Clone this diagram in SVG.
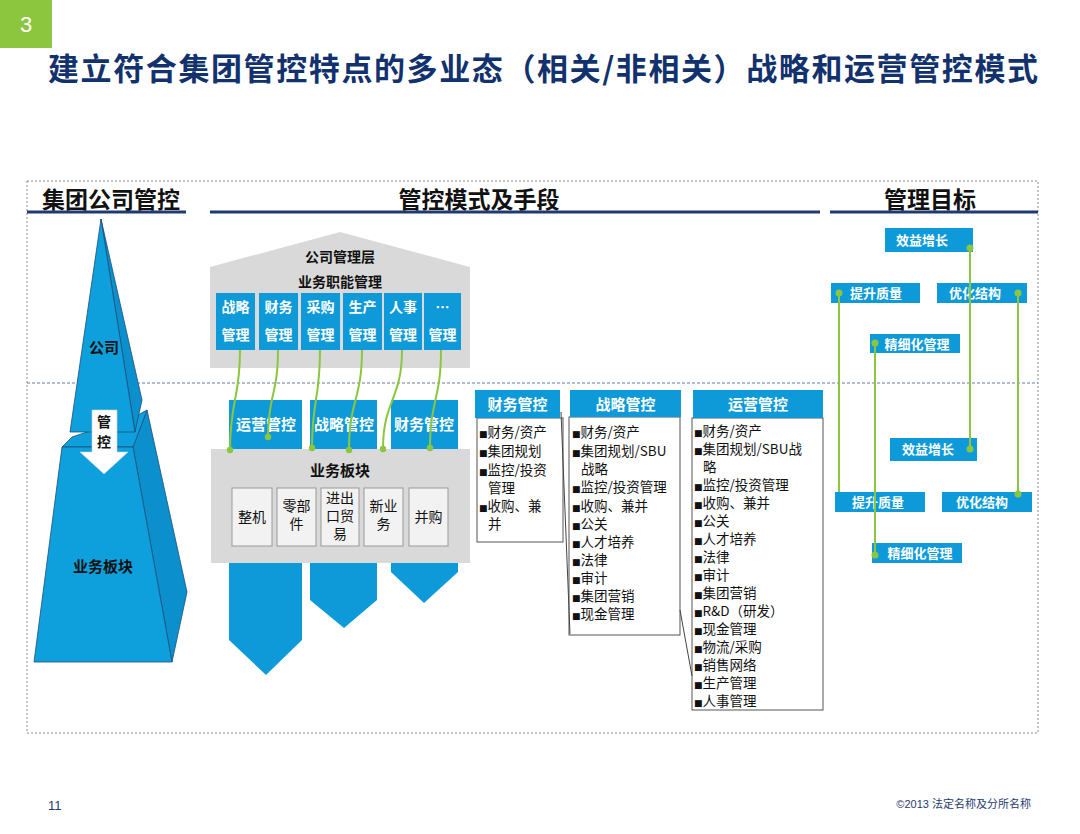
<svg xmlns="http://www.w3.org/2000/svg" width="1080" height="834" viewBox="0 0 1080 834">
<defs>
<style>
.title{font-family:"Noto Sans CJK SC","Liberation Sans",sans-serif;font-weight:bold;fill:#12326e}
.head{font-family:"Noto Sans CJK SC","Liberation Sans",sans-serif;font-weight:bold;fill:#111;font-size:23px}
.uline{stroke:#1f3a70;stroke-width:3}
.blue{fill:#0e9ad8}
.wt{font-family:"Noto Sans CJK SC","Liberation Sans",sans-serif;font-weight:bold;fill:#fff;text-anchor:middle}
.bt{font-family:"Noto Sans CJK SC","Liberation Sans",sans-serif;font-weight:bold;fill:#111;text-anchor:middle}
.list{font-family:"Noto Sans CJK SC","Liberation Sans",sans-serif;font-size:13.5px;fill:#111}
.bul{font-family:"DejaVu Sans",sans-serif;font-size:9px}
.body{fill:#fff;stroke:#555;stroke-width:1}
.sub{fill:#f2f2f2;stroke:#9a9a9a;stroke-width:1}
.st{font-family:"Noto Sans CJK SC","Liberation Sans",sans-serif;font-size:14px;fill:#111;text-anchor:middle}
.gl{fill:none;stroke:#8cc63f;stroke-width:2}
.gd{fill:#8cc63f}
.face1{fill:#0ea0dc;stroke:#1d4f7a;stroke-width:0.8}
.face2{fill:#0b8fcd;stroke:#1d4f7a;stroke-width:0.8}
</style>
</defs>
<rect width="1080" height="834" fill="#fff"/>

<!-- title -->
<g id="title">
<rect x="0" y="0" width="52" height="48" fill="#8cc63f"/>
<text x="26" y="32" font-family="Liberation Sans, sans-serif" font-size="22" fill="#fff" text-anchor="middle">3</text>
<text class="title" x="48" y="80" font-size="31" textLength="990" lengthAdjust="spacing">建立符合集团管控特点的多业态（相关/非相关）战略和运营管控模式</text>
</g>

<!-- frame -->
<rect x="27" y="181" width="1011" height="552" fill="none" stroke="#8a8a8a" stroke-width="1" stroke-dasharray="2,2"/>
<line x1="27" y1="383" x2="1038" y2="383" stroke="#6a7f9f" stroke-width="1" stroke-dasharray="3,2"/>

<!-- headers -->
<g id="headers">
<text class="head" x="111" y="208" text-anchor="middle">集团公司管控</text>
<line class="uline" x1="27" y1="212" x2="186" y2="212"/>
<text class="head" x="479" y="208" text-anchor="middle">管控模式及手段</text>
<line class="uline" x1="210" y1="212" x2="820" y2="212"/>
<text class="head" x="930" y="208" text-anchor="middle">管理目标</text>
<line class="uline" x1="830" y1="212" x2="1038" y2="212"/>
</g>

<!-- pyramid -->
<g id="pyramid">
<polygon class="face2" points="133,447 147,410 187,592 172,662"/>
<polygon class="face1" points="62,447 72,437 138,415 147,410 133,447"/>
<polygon class="face1" points="62,447 133,447 172,662 34,662"/>
<polygon class="face2" points="101,219 142,400 135,432"/>
<polygon class="face1" points="101,219 70,432 135,432"/>
<text class="bt" x="104" y="353" font-size="15">公司</text>
<polygon points="92,410 117,410 117,452 128,452 104,474 80,452 92,452" fill="#fff" stroke="#d0d0d0" stroke-width="0.6"/>
<text class="bt" x="104" y="427" font-size="14">管</text>
<text class="bt" x="104" y="447" font-size="14">控</text>
<text class="bt" x="103" y="572" font-size="15">业务板块</text>
</g>

<!-- company house -->
<g id="company">
<polygon points="210,267 340,232 470,267" fill="#d9d9d9"/>
<rect x="210" y="267" width="260" height="101" fill="#d9d9d9"/>
<text class="bt" x="340" y="262" font-size="14">公司管理层</text>
<text class="bt" x="340" y="287" font-size="14">业务职能管理</text>
<g id="func">
<rect class="blue" x="216" y="293" width="39" height="57"/>
<rect class="blue" x="259" y="293" width="39" height="57"/>
<rect class="blue" x="301" y="293" width="39" height="57"/>
<rect class="blue" x="343" y="293" width="39" height="57"/>
<rect class="blue" x="384" y="293" width="38" height="57"/>
<rect class="blue" x="424" y="293" width="37" height="57"/>
<g class="wt" font-size="14">
<text x="235.5" y="312">战略</text><text x="235.5" y="340">管理</text>
<text x="278.5" y="312">财务</text><text x="278.5" y="340">管理</text>
<text x="320.5" y="312">采购</text><text x="320.5" y="340">管理</text>
<text x="362.5" y="312">生产</text><text x="362.5" y="340">管理</text>
<text x="403" y="312">人事</text><text x="403" y="340">管理</text>
<text x="442.5" y="312">…</text><text x="442.5" y="340">管理</text>
</g>
</g>
</g>

<!-- control arrows -->
<g id="controls">
<polygon class="blue" points="229,400 302,400 302,640 266,675 229,640"/>
<polygon class="blue" points="310,400 377,400 377,600 344,628 310,600"/>
<polygon class="blue" points="391,400 458,400 458,572 424,603 391,572"/>
<text class="wt" x="266" y="430" font-size="15">运营管控</text>
<text class="wt" x="344" y="430" font-size="15">战略管控</text>
<text class="wt" x="424" y="430" font-size="15">财务管控</text>
</g>

<!-- business block -->
<g id="business">
<rect x="211" y="449" width="259" height="114" fill="#d9d9d9"/>
<text class="bt" x="340" y="476" font-size="15">业务板块</text>
<rect class="sub" x="232" y="488" width="40" height="58"/>
<rect class="sub" x="277" y="488" width="39" height="58"/>
<rect class="sub" x="321" y="488" width="38" height="58"/>
<rect class="sub" x="364" y="488" width="39" height="58"/>
<rect class="sub" x="409" y="488" width="39" height="58"/>
<g class="st">
<text x="252" y="522">整机</text>
<text x="296.5" y="511">零部</text><text x="296.5" y="529">件</text>
<text x="340" y="503">进出</text><text x="340" y="521">口贸</text><text x="340" y="539">易</text>
<text x="383.5" y="511">新业</text><text x="383.5" y="529">务</text>
<text x="428.5" y="522">并购</text>
</g>
</g>

<!-- text boxes -->
<g id="box-fin">
<rect class="body" x="477" y="418" width="86" height="124"/>
<rect class="blue" x="475" y="390" width="85" height="28"/>
<text class="wt" x="517.5" y="410" font-size="15">财务管控</text>
<g class="list">
<text x="479" y="437"><tspan class="bul">■</tspan>财务/资产</text>
<text x="479" y="456"><tspan class="bul">■</tspan>集团规划</text>
<text x="479" y="475"><tspan class="bul">■</tspan>监控/投资</text>
<text x="488" y="493">管理</text>
<text x="479" y="511"><tspan class="bul">■</tspan>收购、兼</text>
<text x="488" y="529">并</text>
</g>
</g>

<g id="box-str">
<rect class="body" x="569" y="417" width="111" height="218"/>
<rect class="blue" x="570" y="390" width="111" height="27"/>
<text class="wt" x="625.5" y="410" font-size="15">战略管控</text>
<g class="list">
<text x="572" y="437"><tspan class="bul">■</tspan>财务/资产</text>
<text x="572" y="456"><tspan class="bul">■</tspan>集团规划/SBU</text>
<text x="581" y="474">战略</text>
<text x="572" y="492"><tspan class="bul">■</tspan>监控/投资管理</text>
<text x="572" y="511"><tspan class="bul">■</tspan>收购、兼并</text>
<text x="572" y="529"><tspan class="bul">■</tspan>公关</text>
<text x="572" y="547"><tspan class="bul">■</tspan>人才培养</text>
<text x="572" y="565"><tspan class="bul">■</tspan>法律</text>
<text x="572" y="583"><tspan class="bul">■</tspan>审计</text>
<text x="572" y="601"><tspan class="bul">■</tspan>集团营销</text>
<text x="572" y="619"><tspan class="bul">■</tspan>现金管理</text>
</g>
</g>

<g id="box-ops">
<rect class="body" x="692" y="418" width="131" height="292"/>
<rect class="blue" x="693" y="390" width="130" height="28"/>
<text class="wt" x="758" y="410" font-size="15">运营管控</text>
<g class="list">
<text x="694" y="436"><tspan class="bul">■</tspan>财务/资产</text>
<text x="694" y="454"><tspan class="bul">■</tspan>集团规划/SBU战</text>
<text x="703" y="472">略</text>
<text x="694" y="490"><tspan class="bul">■</tspan>监控/投资管理</text>
<text x="694" y="508"><tspan class="bul">■</tspan>收购、兼并</text>
<text x="694" y="526"><tspan class="bul">■</tspan>公关</text>
<text x="694" y="544"><tspan class="bul">■</tspan>人才培养</text>
<text x="694" y="562"><tspan class="bul">■</tspan>法律</text>
<text x="694" y="580"><tspan class="bul">■</tspan>审计</text>
<text x="694" y="598"><tspan class="bul">■</tspan>集团营销</text>
<text x="694" y="616"><tspan class="bul">■</tspan>R&amp;D（研发）</text>
<text x="694" y="634"><tspan class="bul">■</tspan>现金管理</text>
<text x="694" y="652"><tspan class="bul">■</tspan>物流/采购</text>
<text x="694" y="670"><tspan class="bul">■</tspan>销售网络</text>
<text x="694" y="688"><tspan class="bul">■</tspan>生产管理</text>
<text x="694" y="706"><tspan class="bul">■</tspan>人事管理</text>
</g>
</g>

<!-- goals -->
<g id="goals" class="wt" font-size="13">
<g id="g-top1"><rect class="blue" x="885" y="228" width="88" height="24"/><text x="922" y="245">效益增长</text></g>
<g id="g-top2"><rect class="blue" x="831" y="283" width="89" height="20"/><text x="876" y="298">提升质量</text></g>
<g id="g-top3"><rect class="blue" x="937" y="283" width="90" height="20"/><text x="975" y="298">优化结构</text></g>
<g id="g-top4"><rect class="blue" x="870" y="334" width="90" height="19"/><text x="917" y="349">精细化管理</text></g>
<g id="g-bot1"><rect class="blue" x="890" y="438" width="87" height="23"/><text x="928" y="454">效益增长</text></g>
<g id="g-bot2"><rect class="blue" x="835" y="492" width="90" height="20"/><text x="878" y="507">提升质量</text></g>
<g id="g-bot3"><rect class="blue" x="942" y="492" width="90" height="20"/><text x="982" y="507">优化结构</text></g>
<g id="g-bot4"><rect class="blue" x="872" y="543" width="90" height="20"/><text x="920" y="558">精细化管理</text></g>
</g>

<!-- connectors -->
<g id="connectors">
<line x1="561" y1="412" x2="570" y2="634" stroke="#444" stroke-width="1"/>
<line x1="680" y1="610" x2="692" y2="676" stroke="#444" stroke-width="1"/>
<path class="gl" d="M240,350 C240,400 230,400 230,450"/>
<path class="gl" d="M278,350 C278,395 268,395 268,437"/>
<path class="gl" d="M320,350 C320,400 312,400 312,448"/>
<path class="gl" d="M362,350 C362,400 349,400 349,450"/>
<path class="gl" d="M402,350 C402,400 383,400 383,449"/>
<path class="gl" d="M441,350 C441,400 430,400 430,448"/>
<g class="gd">
<circle cx="230" cy="450" r="3.2"/><circle cx="268" cy="437" r="3.2"/><circle cx="312" cy="448" r="3.2"/>
<circle cx="349" cy="450" r="3.2"/><circle cx="383" cy="449" r="3.2"/><circle cx="430" cy="448" r="3.2"/>
</g>
<line class="gl" x1="970" y1="248" x2="970" y2="449" stroke-width="2.5"/>
<line class="gl" x1="839" y1="293" x2="839" y2="492" stroke-width="2.5"/>
<line class="gl" x1="1018" y1="293" x2="1018" y2="494" stroke-width="2.5"/>
<line class="gl" x1="875" y1="343" x2="875" y2="555" stroke-width="2.5"/>
<g class="gd">
<circle cx="970" cy="248" r="3.5"/><circle cx="970" cy="449" r="3.5"/>
<circle cx="839" cy="293" r="3.5"/>
<circle cx="1018" cy="293" r="3.5"/><circle cx="1018" cy="494" r="3.5"/>
<circle cx="875" cy="343" r="3.5"/><circle cx="875" cy="555" r="3.5"/>
</g>
</g>

<!-- footer -->
<text x="48" y="810" font-family="Liberation Sans, sans-serif" font-size="13" fill="#1f3a70">11</text>
<text x="1031" y="808" font-family="Liberation Sans, 'Noto Sans CJK SC', sans-serif" font-size="11" fill="#1f3a70" text-anchor="end">©2013 法定名称及分所名称</text>
</svg>
